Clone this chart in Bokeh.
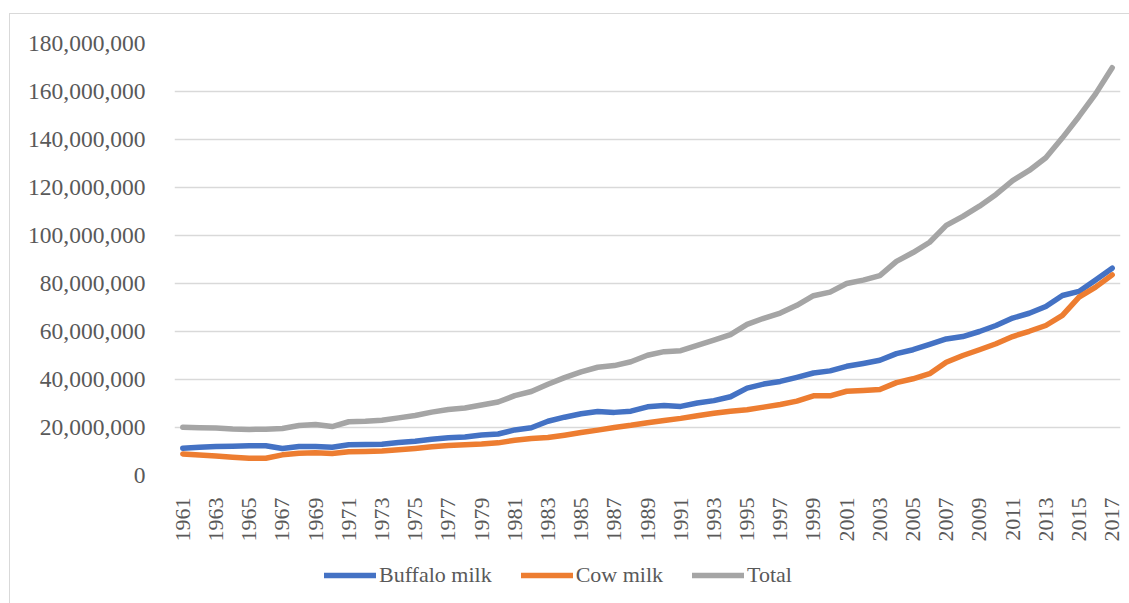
import math
from bokeh.plotting import figure
from bokeh.layouts import column
from bokeh.models import (ColumnDataSource, FixedTicker, NumeralTickFormatter,
                          Legend, LegendItem, Range1d, InlineStyleSheet)
from bokeh.embed import file_html
from bokeh.resources import INLINE

years = list(range(1961, 2018))

buffalo_milk = [11.4, 11.8, 12.1, 12.2, 12.4, 12.4, 11.25, 12.1, 12.1, 11.8,
                12.8, 12.9, 13.05, 13.75, 14.3, 15.1, 15.7, 16.0, 16.9, 17.3,
                19.0, 19.9, 22.6, 24.3, 25.7, 26.7, 26.3, 26.8, 28.6, 29.2,
                28.8, 30.2, 31.2, 32.8, 36.4, 38.1, 39.2, 40.9, 42.7, 43.6,
                45.5, 46.7, 48.0, 50.8, 52.4, 54.6, 56.9, 57.9, 60.0, 62.5,
                65.6, 67.6, 70.4, 75.0, 76.7, 81.5, 86.4]

cow_milk = [9.0, 8.5, 8.1, 7.6, 7.2, 7.2, 8.6, 9.3, 9.45, 9.2,
            9.9, 10.0, 10.2, 10.7, 11.25, 11.95, 12.5, 12.8, 13.1, 13.6,
            14.7, 15.4, 15.8, 16.8, 17.9, 18.9, 20.0, 20.9, 22.0, 22.9,
            23.8, 24.9, 25.9, 26.8, 27.4, 28.5, 29.6, 31.0, 33.2, 33.2,
            35.1, 35.4, 35.8, 38.7, 40.3, 42.4, 47.2, 50.0, 52.4, 54.9,
            57.9, 60.1, 62.5, 66.7, 74.3, 78.5, 83.6]

total = [20.1, 19.9, 19.8, 19.4, 19.2, 19.3, 19.6, 20.8, 21.25, 20.4,
         22.4, 22.6, 23.0, 24.0, 25.0, 26.4, 27.5, 28.1, 29.4, 30.6,
         33.3, 35.0, 38.0, 40.8, 43.2, 45.1, 45.8, 47.4, 50.1, 51.6,
         52.0, 54.2, 56.4, 58.7, 63.0, 65.5, 67.7, 70.9, 74.9, 76.4,
         80.0, 81.4, 83.3, 89.2, 92.9, 97.2, 104.2, 108.0, 112.2, 117.1,
         122.9, 127.1, 132.4, 140.7, 149.6, 159.0, 169.9]

series_names = ["Buffalo milk", "Cow milk", "Total"]
series_colors = ["#4472C4", "#ED7D31", "#A5A5A5"]
y_ticks = list(range(0, 180_000_001, 20_000_000))
x_ticks = list(range(1961, 2018, 2))

MILLION = 1_000_000
src = ColumnDataSource(dict(
    year=years,
    buffalo=[v * MILLION for v in buffalo_milk],
    cow=[v * MILLION for v in cow_milk],
    total=[v * MILLION for v in total],
))
cols = ["buffalo", "cow", "total"]

FONT = "Liberation Serif"
TXT = "#595959"
GRID = "#D9D9D9"

css_top = InlineStyleSheet(css="""
:host::after {
  content: ''; position: absolute;
  left: 9px; top: 13px; right: 0px; bottom: 0px;
  border-left: 1.5px solid #D9D9D9; border-top: 1.5px solid #D9D9D9;
  pointer-events: none; z-index: 10;
}
""")
css_bottom = InlineStyleSheet(css="""
:host::after {
  content: ''; position: absolute;
  left: 9px; top: 0px; right: 0px; bottom: 0px;
  border-left: 1.5px solid #D9D9D9;
  pointer-events: none; z-index: 10;
}
""")

# ---- main chart ----
p = figure(width=1129, height=546, output_backend="svg", toolbar_location=None,
           x_range=Range1d(1960.5, 2017.5), y_range=Range1d(0, 180_000_000),
           min_border_left=174, min_border_right=9, min_border_top=43,
           min_border_bottom=71, stylesheets=[css_top])
p.outline_line_color = None
p.background_fill_color = "white"
p.border_fill_color = "white"

p.xgrid.grid_line_color = None
p.ygrid.ticker = FixedTicker(ticks=y_ticks)
p.ygrid.grid_line_color = GRID
p.ygrid.grid_line_width = 1.5

p.yaxis.ticker = FixedTicker(ticks=y_ticks)
p.yaxis.formatter = NumeralTickFormatter(format="0,0")
p.yaxis.axis_line_color = None
p.yaxis.major_tick_line_color = None
p.yaxis.minor_tick_line_color = None
p.yaxis.major_label_text_font = FONT
p.yaxis.major_label_text_font_size = "23.5px"
p.yaxis.major_label_text_color = TXT
p.yaxis.major_label_standoff = 23

p.xaxis.ticker = FixedTicker(ticks=x_ticks)
p.xaxis.axis_line_color = None
p.xaxis.major_tick_line_color = None
p.xaxis.minor_tick_line_color = None
p.xaxis.major_label_orientation = math.pi / 2
p.xaxis.major_label_text_font = FONT
p.xaxis.major_label_text_font_size = "22px"
p.xaxis.major_label_text_color = TXT
p.xaxis.major_label_standoff = 16

for col, color in zip(cols, series_colors):
    p.line("year", col, source=src, line_color=color, line_width=5.5,
           line_cap="round", line_join="round")

# ---- legend strip (same series; data lies outside its view) ----
q = figure(width=1129, height=57, output_backend="svg", toolbar_location=None,
           x_range=Range1d(1960.5, 2017.5), y_range=Range1d(-2, -1),
           x_axis_type=None, y_axis_type=None,
           min_border_left=0, min_border_right=0, min_border_top=0,
           min_border_bottom=0, stylesheets=[css_bottom])
q.outline_line_color = None
q.grid.visible = False
q.background_fill_color = "white"
q.border_fill_color = "white"

leg_renderers = []
for col, color in zip(cols, series_colors):
    r = q.line("year", col, source=src, line_color=color, line_width=5.5,
               line_cap="round", line_join="round")
    leg_renderers.append(r)

legend = Legend(items=[LegendItem(label=n, renderers=[r])
                       for n, r in zip(series_names, leg_renderers)],
                orientation="horizontal", location=(150, 15),
                glyph_width=52, glyph_height=20, label_height=20,
                label_standoff=3, spacing=29, padding=0, margin=0,
                border_line_color=None, background_fill_alpha=0,
                label_text_font=FONT, label_text_font_size="22px",
                label_text_color=TXT)
q.add_layout(legend, "center")

layout = column(p, q, spacing=0)
open("out.html", "w").write(file_html(layout, INLINE))
